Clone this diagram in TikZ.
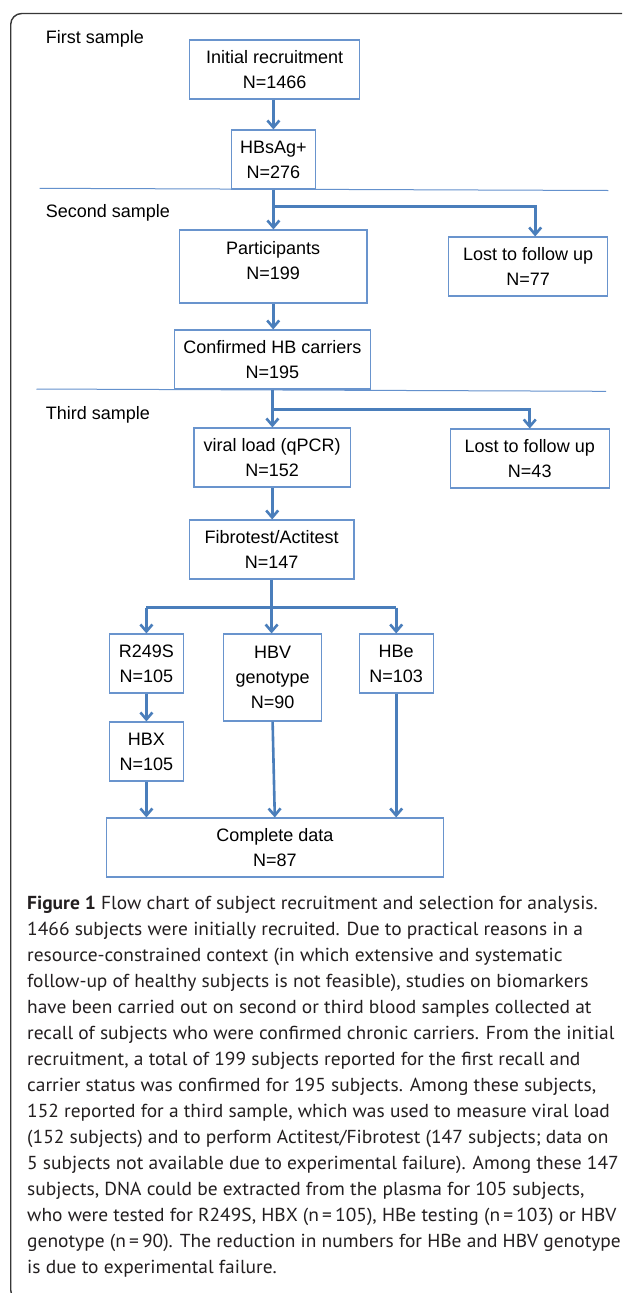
\documentclass[tikz,border=0pt]{standalone}
\usepackage{fontspec}
\setmainfont{Liberation Sans}
\newfontfamily\capfont[FakeStretch=1.035]{PT Sans}
\usetikzlibrary{arrows.meta}
\definecolor{arrowblue}{RGB}{74,126,187}
\definecolor{boxblue}{RGB}{105,148,205}
\definecolor{sepblue}{RGB}{100,145,205}
\definecolor{framegray}{RGB}{55,55,55}
\definecolor{captext}{RGB}{35,31,32}
\begin{document}
\begin{tikzpicture}[x=1pt,y=-1pt,
 box/.style={draw=boxblue, line width=1.1pt, align=center, inner sep=0pt, font=\fontsize{18}{25}\selectfont},
 txt/.style={align=center, inner sep=0pt, font=\fontsize{18}{25}\selectfont},
 lbl/.style={anchor=base west, inner sep=0pt, font=\fontsize{18}{22}\selectfont},
 arr/.style={draw=arrowblue, line width=2.6pt, -{Straight Barb[length=7pt,width=12pt]}},
 flow/.style={draw=arrowblue, line width=2.6pt},
 sep/.style={draw=sepblue, line width=1pt},
 capline/.style={anchor=base west, inner sep=0pt, text=captext, font=\capfont\fontsize{18.8}{26}\selectfont},
]
\useasboundingbox (0,0) rectangle (622,1293);
\clip (0,0) rectangle (622,1293);
\fill[white] (0,0) rectangle (622,1293);
\draw[framegray, line width=1.4pt, rounded corners=11pt] (10.7,13.5) rectangle (700,1301);

% section labels
\node[lbl] (s1) at (45.6,43) {First sample};
\node[lbl] (s2) at (45.6,217) {Second sample};
\node[lbl] (s3) at (45.6,419) {Third sample};

% separators
\draw[sep] (39.7,188.3) -- (608.3,190.5);
\draw[sep] (36.5,389) -- (606,391.3);

% boxes
\node[box, minimum width=170.6, minimum height=59] (init) at (274.6,69.5) {Initial recruitment\\N=1466};
\node[box, minimum width=83.4, minimum height=59] (hbs) at (273.4,159.5) {HBsAg+\\N=276};
\node[box, minimum width=187.6, minimum height=73] (part) at (273.2,266.5) {};
\node[txt] (partt) at (273.2,260.5) {Participants\\N=199};
\node[box, minimum width=158.7, minimum height=59] (lost1) at (528.2,266.5) {Lost to follow up\\N=77};
\node[box, minimum width=195.6, minimum height=59] (conf) at (272.4,359.5) {Confirmed HB carriers\\N=195};
\node[box, minimum width=156.4, minimum height=59] (viral) at (272.2,457.5) {viral load (qPCR)\\N=152};
\node[box, minimum width=158.7, minimum height=59] (lost2) at (529.75,458.5) {Lost to follow up\\N=43};
\node[box, minimum width=164.7, minimum height=59] (fibro) at (271.6,549.5) {Fibrotest/Actitest\\N=147};
\node[box, minimum width=73.8, minimum height=59] (r249) at (146.4,663.5) {R249S\\N=105};
\node[box, minimum width=97.6, minimum height=87] (hbv) at (272.6,677.5) {HBV\\genotype\\N=90};
\node[box, minimum width=74.2, minimum height=59] (hbe) at (396.2,663.5) {HBe\\N=103};
\node[box, minimum width=73.8, minimum height=59] (hbx) at (146.4,751.5) {HBX\\N=105};
\node[box, minimum width=337, minimum height=59] (comp) at (274.8,847.5) {Complete data\\N=87};

% connectors
\draw[arr] (hbs.north |- init.south) -- (hbs.north);
\draw[flow] (hbs.south) -- ++(0,17) coordinate (b1);
\draw[arr] (b1) -- (b1 |- part.north);
\draw[arr] (b1) -| ([xshift=7pt]lost1.north);
\draw[arr] (part.south) -- (part.south |- conf.north);
\draw[flow] (conf.south) -- ++(0,20) coordinate (b2);
\draw[arr] (b2) -- (b2 |- viral.north);
\draw[arr] (b2) -| (lost2.north);
\draw[arr] (viral.south) -- (viral.south |- fibro.north);
\draw[flow] (fibro.south) -- ++(0,28) coordinate (b3);
\draw[flow] (b3 -| r249.north) -- (b3 -| hbe.north);
\draw[arr] (b3 -| r249.north) -- (r249.north);
\draw[arr] (b3) -- (b3 |- hbv.north);
\draw[arr] (b3 -| hbe.north) -- (hbe.north);
\draw[arr] (r249.south) -- (hbx.north);
\draw[arr] (hbx.south) -- (hbx.south |- comp.north);
\draw[arr] (hbv.south) -- (comp.north);
\draw[arr] (hbe.south) -- (hbe.south |- comp.north);

% caption
\node[capline] (c1) at (27,909) {\textbf{Figure 1} Flow chart of subject recruitment and selection for analysis.};
\node[capline] (c2) at (27,935) {1466 subjects were initially recruited. Due to practical reasons in a};
\node[capline] (c3) at (27,961) {resource-constrained context (in which extensive and systematic};
\node[capline] (c4) at (27,987) {follow-up of healthy subjects is not feasible), studies on biomarkers};
\node[capline] (c5) at (27,1013) {have been carried out on second or third blood samples collected at};
\node[capline] (c6) at (27,1039) {recall of subjects who were confirmed chronic carriers. From the initial};
\node[capline] (c7) at (27,1065) {recruitment, a total of 199 subjects reported for the first recall and};
\node[capline] (c8) at (27,1091) {carrier status was confirmed for 195 subjects. Among these subjects,};
\node[capline] (c9) at (27,1117) {152 reported for a third sample, which was used to measure viral load};
\node[capline] (c10) at (27,1143) {(152 subjects) and to perform Actitest/Fibrotest (147 subjects; data on};
\node[capline] (c11) at (27,1169) {5 subjects not available due to experimental failure). Among these 147};
\node[capline] (c12) at (27,1195) {subjects, DNA could be extracted from the plasma for 105 subjects,};
\node[capline] (c13) at (27,1221) {who were tested for R249S, HBX (n\,=\,105), HBe testing (n\,=\,103) or HBV};
\node[capline] (c14) at (27,1247) {genotype (n\,=\,90). The reduction in numbers for HBe and HBV genotype};
\node[capline] (c15) at (27,1273) {is due to experimental failure.};
\end{tikzpicture}
\end{document}
